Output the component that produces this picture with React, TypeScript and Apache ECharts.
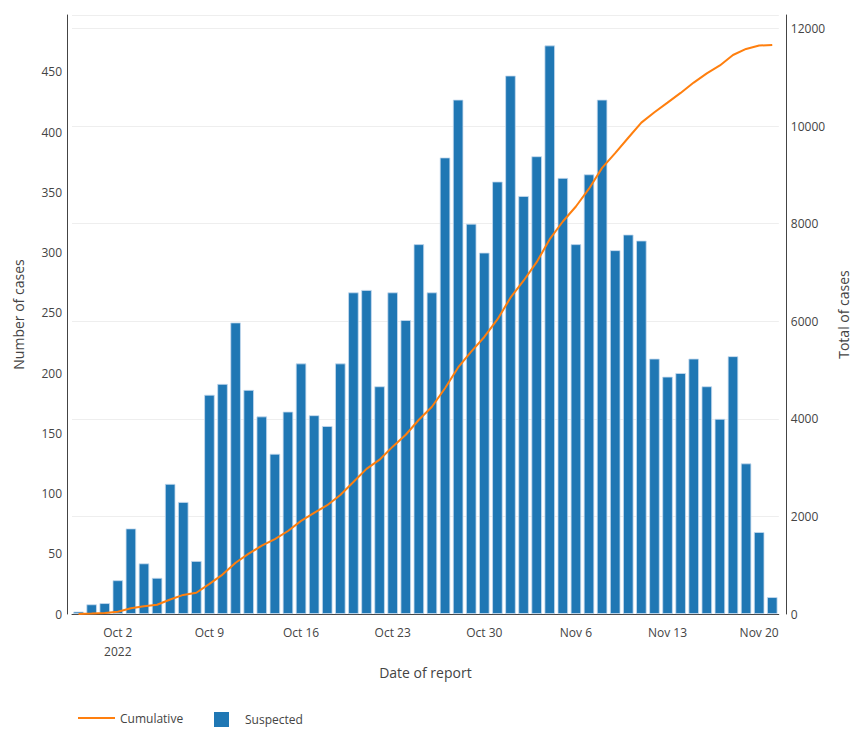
import React, { useEffect, useRef } from "react";
import * as echarts from "echarts";

const dates: string[] = [
  "Sep 29", "Sep 30", "Oct 1", "Oct 2", "Oct 3", "Oct 4", "Oct 5", "Oct 6", "Oct 7", "Oct 8",
  "Oct 9", "Oct 10", "Oct 11", "Oct 12", "Oct 13", "Oct 14", "Oct 15", "Oct 16", "Oct 17", "Oct 18",
  "Oct 19", "Oct 20", "Oct 21", "Oct 22", "Oct 23", "Oct 24", "Oct 25", "Oct 26", "Oct 27", "Oct 28",
  "Oct 29", "Oct 30", "Oct 31", "Nov 1", "Nov 2", "Nov 3", "Nov 4", "Nov 5", "Nov 6", "Nov 7",
  "Nov 8", "Nov 9", "Nov 10", "Nov 11", "Nov 12", "Nov 13", "Nov 14", "Nov 15", "Nov 16", "Nov 17",
  "Nov 18", "Nov 19", "Nov 20", "Nov 21",
];

const suspected: number[] = [
  2, 8, 9, 28, 71, 42, 30, 108, 93, 44,
  182, 191, 242, 186, 164, 133, 168, 208, 165, 156,
  208, 267, 269, 189, 267, 244, 307, 267, 379, 427,
  324, 300, 359, 447, 347, 380, 472, 362, 307, 365,
  427, 302, 315, 310, 212, 197, 200, 212, 189, 162,
  214, 125, 68, 14,
];

const cumulative: number[] = [
  2, 10, 19, 47, 118, 160, 190, 298, 391, 435,
  617, 808, 1050, 1236, 1400, 1533, 1701, 1909, 2074, 2230,
  2438, 2705, 2974, 3163, 3430, 3674, 3981, 4248, 4627, 5054,
  5378, 5678, 6037, 6484, 6831, 7211, 7683, 8045, 8352, 8717,
  9144, 9446, 9761, 10071, 10283, 10480, 10680, 10892, 11081, 11243,
  11457, 11582, 11650, 11664,
];

const tickDates: string[] = ["Oct 2", "Oct 9", "Oct 16", "Oct 23", "Oct 30", "Nov 6", "Nov 13", "Nov 20"];
const firstTickYear = "2022";

const FONT = "'Open Sans', 'Noto Sans', sans-serif";
const TXT = "#444";

export default function App() {
  const ref = useRef<HTMLDivElement>(null);
  useEffect(() => {
    document.body.style.margin = "0";
    if (!ref.current) return;
    const chart = echarts.init(ref.current, undefined, { renderer: "svg" });
    chart.setOption({
      animation: false,
      backgroundColor: "#fff",
      textStyle: { fontFamily: FONT },
      grid: { left: 72, right: 62, top: 15, bottom: 115 },
      legend: [
        {
          data: [{ name: "Cumulative", icon: "path://M0,0L37,0L37,2L0,2Z" }],
          left: 78,
          top: 712,
          padding: 0,
          itemWidth: 37,
          itemHeight: 15,
          itemStyle: { borderWidth: 0 },
          textStyle: { color: TXT, fontSize: 12, fontFamily: FONT },
        },
        {
          data: [
            {
              name: "Suspected",
              icon: "path://M0,7.5L0.01,7.5L0.01,7.51Z M11,0L26,0L26,15L11,15Z M36.99,7.5L37,7.5L37,7.51Z",
            },
          ],
          left: 203,
          top: 712,
          padding: 0,
          itemWidth: 37,
          itemHeight: 15,
          itemStyle: { borderWidth: 0 },
          textStyle: { color: TXT, fontSize: 12, fontFamily: FONT },
        },
      ],
      xAxis: {
        type: "category",
        data: dates,
        boundaryGap: true,
        name: "Date of report",
        nameLocation: "middle",
        nameGap: 51,
        nameTextStyle: { color: TXT, fontSize: 14, fontFamily: FONT },
        axisLine: { show: true, lineStyle: { color: "#444", width: 1 } },
        axisTick: { show: false },
        axisLabel: {
          color: TXT,
          fontSize: 12,
          fontFamily: FONT,
          margin: 9,
          lineHeight: 19,
          interval: (_i: number, v: string) => tickDates.includes(v),
          formatter: (v: string) => (v === tickDates[0] ? v + "\n" + firstTickYear : v),
        },
        splitLine: { show: false },
      },
      yAxis: [
        {
          type: "value",
          min: 0,
          max: 497.3,
          interval: 50,
          offset: 5,
          name: "Number of cases",
          nameLocation: "middle",
          nameRotate: 90,
          nameGap: 42,
          nameTextStyle: { color: TXT, fontSize: 14, fontFamily: FONT },
          axisLine: { show: true, lineStyle: { color: "#444", width: 1 } },
          axisTick: { show: false },
          axisLabel: { color: TXT, fontSize: 12, fontFamily: FONT, margin: 5, showMaxLabel: false },
          splitLine: { show: false },
        },
        {
          type: "value",
          min: 0,
          max: 12277,
          interval: 2000,
          offset: 7,
          position: "right",
          name: "Total of cases",
          nameLocation: "middle",
          nameRotate: 90,
          nameGap: 47,
          nameTextStyle: { color: TXT, fontSize: 14, fontFamily: FONT },
          axisLine: { show: true, lineStyle: { color: "#444", width: 1 } },
          axisTick: { show: false },
          axisLabel: {
            color: TXT,
            fontSize: 12,
            fontFamily: FONT,
            margin: 5,
            showMaxLabel: false,
            formatter: (v: number) => String(v),
          },
          splitLine: { show: true, lineStyle: { color: "#eeeeee", width: 1 } },
        },
      ],
      series: [
        {
          name: "Suspected",
          type: "bar",
          data: suspected,
          yAxisIndex: 0,
          barCategoryGap: "20%",
          itemStyle: { color: "#1f77b4", borderColor: "#c6dbef", borderWidth: 0.8 },
          z: 2,
        },
        {
          name: "Cumulative",
          type: "line",
          data: cumulative,
          yAxisIndex: 1,
          symbol: "none",
          lineStyle: { color: "#ff7f0e", width: 2 },
          itemStyle: { color: "#ff7f0e" },
          z: 3,
        },
      ],
    });
    return () => chart.dispose();
  }, []);
  return <div ref={ref} style={{ width: 858, height: 729 }} />;
}
